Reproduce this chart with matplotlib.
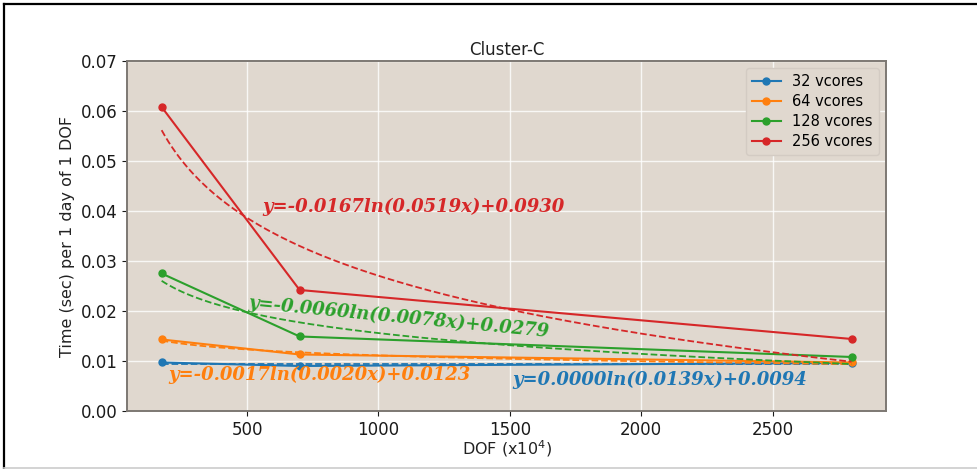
import numpy as np
import matplotlib
matplotlib.use("Agg")
import matplotlib.pyplot as plt
from matplotlib.lines import Line2D

dof = [175, 700, 2800]
series_names = ["32 vcores", "64 vcores", "128 vcores", "256 vcores"]
t32 = [0.0097, 0.0090, 0.0096]
t64 = [0.0143, 0.0113, 0.0097]
t128 = [0.0275, 0.0149, 0.0108]
t256 = [0.0608, 0.0242, 0.0144]
# log fit coefficients y = a*ln(b*x) + c, as printed on the chart
fit_a = [0.0000, -0.0017, -0.0060, -0.0167]
fit_b = [0.0139, 0.0020, 0.0078, 0.0519]
fit_c = [0.0094, 0.0123, 0.0279, 0.0930]
fit_labels = ["y=0.0000ln(0.0139x)+0.0094",
              "y=-0.0017ln(0.0020x)+0.0123",
              "y=-0.0060ln(0.0078x)+0.0279",
              "y=-0.0167ln(0.0519x)+0.0930"]
label_pos = [(1511, 0.0062), (199, 0.0072), (504, 0.0216), (557, 0.0408)]
label_rot = [0, 0, -5.5, 0]
colors = ["#1f77b4", "#ff7f0e", "#2ca02c", "#d62728"]

fig = plt.figure(figsize=(9.78, 4.69), dpi=100)
ax = fig.add_axes([0.130, 0.1237, 0.776, 0.7463])
ax.set_facecolor("#e0d8cf")
ax.grid(True, color="white", linewidth=1.0, alpha=0.8)
ax.set_axisbelow(True)

values = [t32, t64, t128, t256]
xs = np.linspace(dof[0], dof[-1], 200)
for i, (name, vals) in enumerate(zip(series_names, values)):
    ax.plot(dof, vals, color=colors[i], marker="o", markersize=5,
            linewidth=1.5, label=name)
    ys = fit_a[i] * np.log(fit_b[i] * xs) + fit_c[i]
    ax.plot(xs, ys, color=colors[i], linestyle="--", linewidth=1.3)
    ax.text(label_pos[i][0], label_pos[i][1], fit_labels[i], color=colors[i],
            fontsize=13, fontweight="bold", fontstyle="italic",
            family="DejaVu Serif", ha="left", va="center",
            rotation=label_rot[i], rotation_mode="anchor")

ax.set_ylim(0, 0.07)
ax.set_yticks([0, 0.01, 0.02, 0.03, 0.04, 0.05, 0.06, 0.07])
ax.set_xticks([500, 1000, 1500, 2000, 2500])
ax.tick_params(labelsize=12, colors="#1a1a1a")
for s in ax.spines.values():
    s.set_color("#7d7873")
    s.set_linewidth(1.4)

ax.set_title("Cluster-C", fontsize=12, color="#222222", pad=4.5)
ax.set_xlabel("DOF (x10$^4$)", fontsize=11.5, color="#222222", labelpad=0)
ax.set_ylabel("Time (sec) per 1 day of 1 DOF", fontsize=11.5, color="#222222")
leg = ax.legend(loc="upper right", fontsize=10.5, frameon=True,
                facecolor="#e0d8cf", edgecolor="#d3cbc3", framealpha=1.0,
                labelspacing=0.35, handlelength=2.0, handletextpad=0.8)

fig.add_artist(Line2D([4/978, 4/978], [0, 1 - 4/469], color="black", linewidth=1.6))
fig.add_artist(Line2D([4/978, 1], [1 - 4/469, 1 - 4/469], color="black", linewidth=1.6))
fig.add_artist(Line2D([4/978, 1], [1.5/469, 1.5/469], color="#cccccc", linewidth=1.2))

fig.savefig("out.png", dpi=100)
